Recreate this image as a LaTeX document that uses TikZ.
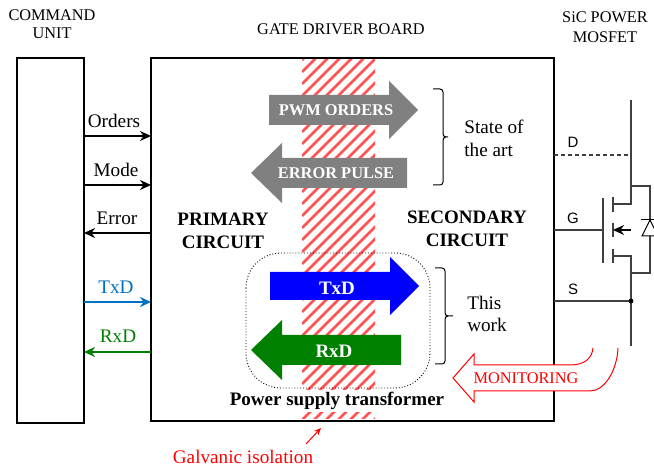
\documentclass[tikz,border=0pt]{standalone}
\usepackage{fontspec}
\setmainfont{Liberation Serif}
\newfontfamily\drainfont{Liberation Sans}
\usetikzlibrary{arrows.meta}

\definecolor{txblue}{RGB}{0,112,192}
\definecolor{rxgreen}{RGB}{0,128,0}

\tikzset{
	box/.style={draw,line width=2.6pt,inner sep=0pt,outer sep=0pt,anchor=north west},
	lab/.style={font=\fontsize{19.2}{23}\selectfont,align=center,inner sep=0pt},
	small/.style={font=\fontsize{16.3}{18.5}\selectfont,align=center,inner sep=0pt},
	labb/.style={font=\fontsize{19}{23}\selectfont\bfseries,align=center,inner sep=0pt},
	inarrow/.style={font=\fontsize{16.4}{19}\selectfont\bfseries,text=white,inner sep=0pt},
	pin/.style={font=\fontsize{15}{17}\selectfont\drainfont,inner sep=0pt},
	sig/.style={line width=1.8pt,-{Stealth[length=11pt,width=10pt]}},
	fet/.style={line width=1.1pt,black!75},
	curly/.style={line width=1pt,rounded corners=3pt},
}

\begin{document}
\begin{tikzpicture}[x=1pt,y=-1pt]

	\useasboundingbox (0,0) rectangle (654,470);

	% isolation band
	\begin{scope}
		\clip (302,60) rectangle (375,419);
		\foreach \k in {0,12,...,444}
			\draw[line width=2.7pt,red!68!white] (302,{60+\k}) -- +(80,-80);
	\end{scope}

	% boxes
	\node[box,minimum width=67pt,minimum height=365pt] (cmd) at (17,58) {};
	\node[box,minimum width=403pt,minimum height=363pt] (board) at (151,58) {};

	% signal levels
	\coordinate (orders) at (0,136);
	\coordinate (mode) at (0,185);
	\coordinate (error) at (0,233);
	\coordinate (txd) at (0,302);
	\coordinate (rxd) at (0,352);

	% signals between the boxes
	\draw[sig] (cmd.east |- orders) -- (board.west |- orders);
	\draw[sig] (cmd.east |- mode) -- (board.west |- mode);
	\draw[sig] (board.west |- error) -- (cmd.east |- error);
	\draw[sig,txblue] (cmd.east |- txd) -- (board.west |- txd);
	\draw[sig,rxgreen] (board.west |- rxd) -- (cmd.east |- rxd);

	\node[lab] (ordersl) at (114,120.5) {Orders};
	\node[lab] (model) at (116,170) {Mode};
	\node[lab] (errorl) at (117,218) {Error};
	\node[lab,text=txblue] (txdl) at (116,287) {TxD};
	\node[lab,text=rxgreen] (rxdl) at (118,336) {RxD};

	% titles
	\node[small] (cmdt) at (52,24) {COMMAND\\UNIT};
	\node[small] (boardt) at (341,29) {GATE DRIVER BOARD};
	\node[small] (fett) at (605,27) {SiC POWER\\[1.5pt]MOSFET};

	% big arrows
	\fill[black!50] (269,95) -- (389,95) -- (389,81) -- (418,110) -- (389,139) -- (389,125) -- (269,125) -- cycle;
	\fill[black!50] (407,158) -- (282,158) -- (282,143) -- (251,173) -- (282,203) -- (282,188) -- (407,188) -- cycle;
	\fill[blue] (270,272) -- (390,272) -- (390,257) -- (419,286) -- (390,315) -- (390,300) -- (270,300) -- cycle;
	\fill[rxgreen] (401,335) -- (282,335) -- (282,320) -- (251,350) -- (282,380) -- (282,365) -- (401,365) -- cycle;

	\node[inarrow] (pwm) at (336,110) {PWM ORDERS};
	\node[inarrow] (err) at (336,173) {ERROR PULSE};
	\node[inarrow,font=\fontsize{19}{21}\selectfont\bfseries] (tx) at (337,288) {TxD};
	\node[inarrow,font=\fontsize{19}{21}\selectfont\bfseries] (rx) at (334,351) {RxD};

	% this work
	\draw[dotted,line width=0.9pt,rounded corners=35pt] (246,253) rectangle (430,388);

	% circuit names
	\node[labb] (prim) at (223,231) {PRIMARY\\CIRCUIT};
	\node[labb] (sec) at (467,229) {SECONDARY\\CIRCUIT};
	\node[labb,fill=white,minimum height=22pt] (psu) at (337,401) {Power supply transformer};

	% braces
	\draw[curly] (433,89) -- (443,89) -- (443,137) -- (450,137) -- (443,137) -- (443,185) -- (433,185);
	\draw[curly] (435,268) -- (445,268) -- (445,316) -- (455,316) -- (445,316) -- (445,364) -- (435,364);
	\node[lab,align=left] (soa) at (494,138) {State of\\the art};
	\node[lab,align=left] (tw) at (487,314) {This\\[-1pt]work};

	% mosfet
	\coordinate (drain) at (631,155);
	\coordinate (gate) at (603,230);
	\coordinate (src) at (631,301);

	\draw[fet] (631,100) -- (631,204) -- (613,204);
	\draw[fet] (613,256) -- (631,256) -- (631,346);
	\draw[fet] (603,198) -- (603,263);
	\draw[fet] (613,197) -- (613,212);
	\draw[fet] (613,223) -- (613,237);
	\draw[fet] (613,249) -- (613,263);
	\draw[fet,-{Stealth[length=11pt,width=10pt]},black,line width=1.8pt] (631,230) -- (613,230);
	\draw[fet] (631,186) -- (650,186) -- (650,273) -- (631,273);
	\draw[line width=1pt,fill=white] (650,220) -- (642,236) -- (658,236) -- cycle;
	\draw[line width=1pt] (641,220) -- (659,220);

	\draw[fet,dash pattern=on 4pt off 3pt] (board.east |- drain) -- (drain);
	\draw[fet] (board.east |- gate) -- (gate);
	\draw[fet] (board.east |- src) -- (src);
	\fill (src) circle (2.4pt);

	\node[pin] (dl) at (573,142) {D};
	\node[pin] (gl) at (573,218) {G};
	\node[pin] (sl) at (573,289) {S};

	% monitoring
	\draw[red,line width=1pt,fill=white] (593,348) .. controls (592,358) and (585,365) .. (570,365) -- (474,365) -- (474,354) -- (453,378) -- (474,402) -- (474,391) -- (590,391) .. controls (605,391) and (617,370) .. (618,348);
	\node[small,text=red] (mon) at (526,378) {MONITORING};

	% galvanic isolation
	\coordinate (iso) at (321,428);
	\node[lab,text=red] (gal) at (243,457) {Galvanic isolation};
	\draw[red,line width=1pt,-{Stealth[length=7pt,width=6pt]}] (306,444) -- (iso);

\end{tikzpicture}
\end{document}
